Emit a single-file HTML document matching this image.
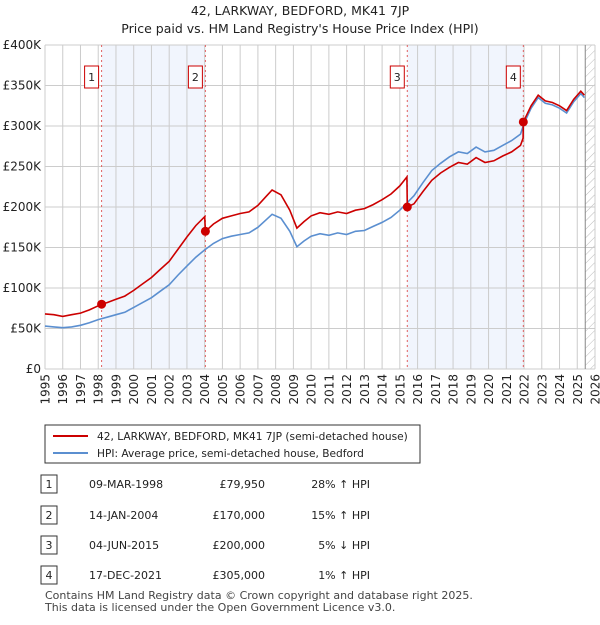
<!DOCTYPE html>
<html><head><meta charset="utf-8"><style>
body{margin:0;background:#fff;font-family:"Liberation Sans","DejaVu Sans",sans-serif;}
svg text{font-family:"DejaVu Sans","Liberation Sans",sans-serif;}
</style></head><body>
<svg id="c" width="600" height="620" xmlns="http://www.w3.org/2000/svg">
<defs><pattern id="hatch" width="6" height="6" patternUnits="userSpaceOnUse" patternTransform="rotate(45)"><line x1="0" y1="0" x2="0" y2="6" stroke="#bbb" stroke-width="1"/></pattern></defs>
<text x="300" y="15" text-anchor="middle" font-size="12.5" fill="#222">42, LARKWAY, BEDFORD, MK41 7JP</text>
<text x="300" y="33" text-anchor="middle" font-size="12.5" fill="#222">Price paid vs. HM Land Registry's House Price Index (HPI)</text>
<g id="plot"></g>
<g>
<rect x="45" y="425" width="375" height="38" fill="#fff" stroke="#333"/>
<line x1="53" y1="436" x2="88" y2="436" stroke="#cc0000" stroke-width="2"/>
<text x="97" y="440" font-size="10.6" fill="#222">42, LARKWAY, BEDFORD, MK41 7JP (semi-detached house)</text>
<line x1="53" y1="453" x2="88" y2="453" stroke="#5b8fd0" stroke-width="2"/>
<text x="97" y="457" font-size="10.6" fill="#222">HPI: Average price, semi-detached house, Bedford</text>
</g>
<g id="table" font-size="11" fill="#222"></g>
<text x="45" y="599" font-size="11" fill="#444">Contains HM Land Registry data © Crown copyright and database right 2025.</text>
<text x="45" y="611" font-size="11" fill="#444">This data is licensed under the Open Government Licence v3.0.</text>
</svg>
<script>
const hpiYears=[1995,1995.5,1996,1996.5,1997,1997.5,1998,1998.5,1999,1999.5,2000,2000.5,2001,2001.5,2002,2002.5,2003,2003.5,2004,2004.5,2005,2005.5,2006,2006.5,2007,2007.5,2007.8,2008.3,2008.8,2009.2,2009.6,2010,2010.5,2011,2011.5,2012,2012.5,2013,2013.5,2014,2014.5,2015,2015.4,2015.8,2016.3,2016.8,2017.3,2017.8,2018.3,2018.8,2019.3,2019.8,2020.3,2020.8,2021.3,2021.8,2022,2022.4,2022.8,2023.2,2023.6,2024,2024.4,2024.8,2025.2,2025.4];
const hpiValues=[53,52,51,52,54,57,61,64,67,70,76,82,88,96,104,116,127,138,147,155,161,164,166,168,175,185,191,186,170,151,158,164,167,165,168,166,170,171,176,181,187,196,205,214,230,245,254,262,268,266,274,268,270,276,282,290,303,322,335,328,326,322,316,330,340,335];
const priceYears=[1995,1995.5,1996,1996.5,1997,1997.5,1998,1998.19,1998.5,1999,1999.5,2000,2000.5,2001,2001.5,2002,2002.5,2003,2003.5,2004.0,2004.04,2004.5,2005,2005.5,2006,2006.5,2007,2007.5,2007.8,2008.3,2008.8,2009.2,2009.6,2010,2010.5,2011,2011.5,2012,2012.5,2013,2013.5,2014,2014.5,2015,2015.4,2015.42,2015.8,2016.3,2016.8,2017.3,2017.8,2018.3,2018.8,2019.3,2019.8,2020.3,2020.8,2021.3,2021.8,2021.95,2021.96,2022.4,2022.8,2023.2,2023.6,2024,2024.4,2024.8,2025.2,2025.4];
const priceValues=[68,67,65,67,69,73,78,79.95,82,86,90,97,105,113,123,133,148,163,177,188,170,179,186,189,192,194,202,214,221,215,196,174,182,189,193,191,194,192,196,198,203,209,216,226,237,200,204,219,233,242,249,255,253,261,255,257,263,268,276,285,305,325,338,331,329,325,319,333,343,338];
const saleLabels=["1","2","3","4"];
const saleYears=[1998.19,2004.04,2015.42,2021.96];
const saleValues=[79.95,170,200,305];
const saleDates=["09-MAR-1998","14-JAN-2004","04-JUN-2015","17-DEC-2021"];
const salePrices=["£79,950","£170,000","£200,000","£305,000"];
const saleHpi=["28% ↑ HPI","15% ↑ HPI","5% ↓ HPI","1% ↑ HPI"];
const yTicks=[0,50,100,150,200,250,300,350,400];
const yTickLabels=["£0","£50K","£100K","£150K","£200K","£250K","£300K","£350K","£400K"];
const xTicks=[1995,1996,1997,1998,1999,2000,2001,2002,2003,2004,2005,2006,2007,2008,2009,2010,2011,2012,2013,2014,2015,2016,2017,2018,2019,2020,2021,2022,2023,2024,2025,2026];
const dataEnd=2025.45;

const L=45,R=595,T=45,B=369;
const xs=y=>L+(y-1995)/(2026-1995)*(R-L);
const ys=v=>B-v/400*(B-T);
const NS="http://www.w3.org/2000/svg";
const plot=document.getElementById('plot');
function mk(tag,attrs,parent){const e=document.createElementNS(NS,tag);for(const k in attrs)e.setAttribute(k,attrs[k]);(parent||plot).appendChild(e);return e;}
for(let i=0;i<4;i+=2){
 const r=mk('rect',{x:xs(saleYears[i]),y:T,width:xs(saleYears[i+1])-xs(saleYears[i]),height:B-T,fill:'#f1f5fd'});
 
 
}
const h=mk('rect',{x:xs(dataEnd),y:T,width:R-xs(dataEnd),height:B-T,fill:'url(#hatch)'});


yTicks.forEach((v,i)=>{
 mk('line',{x1:L,x2:R,y1:ys(v),y2:ys(v),stroke:'#cccccc','stroke-width':1});
 const t=mk('text',{x:L-4,y:ys(v)+4,'text-anchor':'end','font-size':12,fill:'#222'});t.textContent=yTickLabels[i];
 
 
});
xTicks.forEach(y=>{
 mk('line',{x1:xs(y),x2:xs(y),y1:T,y2:B,stroke:'#cccccc','stroke-width':1});
 const t=mk('text',{x:0,y:0,'text-anchor':'end','font-size':12,fill:'#222',transform:`translate(${(xs(y)+4.5).toFixed(1)},374) rotate(-90)`});t.textContent=y;
 
 
});
mk('line',{x1:xs(dataEnd),x2:xs(dataEnd),y1:T,y2:B,stroke:'#888','stroke-width':1});
saleYears.forEach((y,i)=>{
 mk('line',{x1:xs(y),x2:xs(y),y1:T,y2:B,stroke:'#e06060','stroke-width':1,'stroke-dasharray':'2,3'});
 const g=mk('g',{});
 
 
 mk('rect',{x:xs(y)-17,y:66,width:14,height:22,fill:'#fff',stroke:'#cc0000'},g);
 const t=mk('text',{x:xs(y)-10,y:81,'text-anchor':'middle','font-size':11,fill:'#222'},g);t.textContent=saleLabels[i];
});
const path=(X,V)=>X.map((y,i)=>(i?'L':'M')+xs(y).toFixed(1)+','+ys(V[i]).toFixed(1)).join('');
const hp=mk('path',{d:path(hpiYears,hpiValues),fill:'none',stroke:'#5b8fd0','stroke-width':1.6});


const pp=mk('path',{d:path(priceYears,priceValues),fill:'none',stroke:'#cc0000','stroke-width':1.6});


saleYears.forEach((y,i)=>{
 const c=mk('circle',{cx:xs(y),cy:ys(saleValues[i]),r:4.5,fill:'#cc0000'});
 
 
});
const tb=document.getElementById('table');
const rowY=[487,518,548,578];
saleLabels.forEach((l,i)=>{
 const g=mk('g',{},tb);
 
 
 mk('rect',{x:41,y:rowY[i]-12,width:16,height:18,fill:'#fff',stroke:'#333'},g);
 const a=mk('text',{x:49,y:rowY[i]+1,'text-anchor':'middle'},g);a.textContent=l;
 const b=mk('text',{x:89,y:rowY[i]+1},g);b.textContent=saleDates[i];
 const c=mk('text',{x:265,y:rowY[i]+1,'text-anchor':'end'},g);c.textContent=salePrices[i];
 const d=mk('text',{x:370,y:rowY[i]+1,'text-anchor':'end'},g);d.textContent=saleHpi[i];
});
</script>
</body></html>
